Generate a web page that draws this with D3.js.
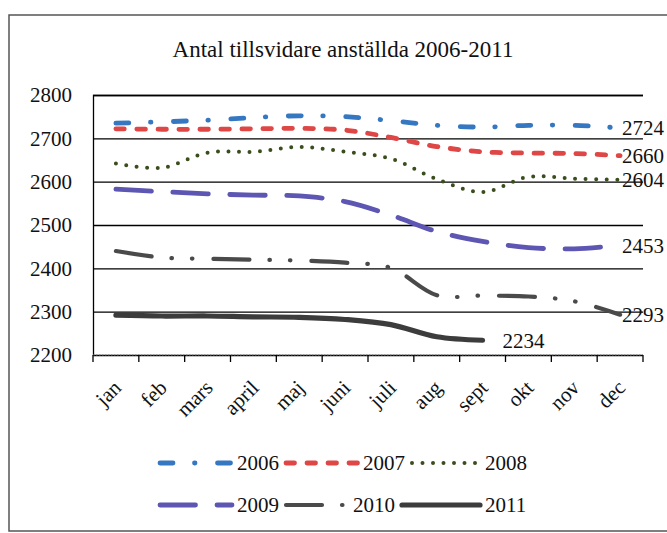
<!DOCTYPE html>
<html><head><meta charset="utf-8">
<script src="https://cdn.jsdelivr.net/npm/d3@7"></script>
<style>body{margin:0;background:#fff} svg{display:block}</style>
</head><body><svg id="c" width="667" height="533"></svg>
<script>
// ---- data ----
const title = "Antal tillsvidare anställda 2006-2011";
const months = ["jan","feb","mars","april","maj","juni","juli","aug","sept","okt","nov","dec"];
const yTicks = [2200,2300,2400,2500,2600,2700,2800];
const years = ["2006","2007","2008","2009","2010","2011"];
const v2006 = [2735,2738,2742,2748,2752,2750,2741,2730,2726,2730,2730,2724];
const v2007 = [2722,2721,2721,2722,2723,2719,2702,2681,2669,2666,2665,2660];
const v2008 = [2642,2632,2667,2669,2680,2669,2653,2606,2576,2611,2607,2604];
const v2009 = [2583,2577,2572,2569,2567,2554,2523,2485,2462,2448,2445,2453];
const v2010 = [2440,2425,2422,2420,2418,2413,2401,2338,2337,2335,2324,2293];
const v2011 = [2292,2290,2290,2288,2287,2282,2270,2242,2234];

// ---- styles ----
const seriesValues = [v2006,v2007,v2008,v2009,v2010,v2011];
const styles = [
  {color:"#3677c2", w:4.8, dash:"13,21.5,0.5,22.5", legendLen:72},
  {color:"#df4646", w:4.8, dash:"8.5,12.5", legendLen:72},
  {color:"#3a4d1c", w:4,   dash:"0,10.5", legendLen:68},
  {color:"#5d56b2", w:4.8, dash:"35.5,21.5", legendLen:72},
  {color:"#4a4a4a", w:4.2, dash:"36,20,0.5,20,0.5,21", legendLen:62},
  {color:"#3c3c3c", w:5.2, dash:null, legendLen:78}
];
const labelDx = [2,2,2,2,2,20];

const font = "'Liberation Serif', 'DejaVu Serif', serif";
const fs = 21;
const m = {left:93, right:643, top:95, bottom:355};
const svg = d3.select("#c").style("font-family", font);

// frame (left, top, bottom; the right edge runs off the picture)
svg.append("path").attr("d","M667,15H9V531H667")
  .attr("fill","none").attr("stroke","#555").attr("stroke-width",1.5);

// title
svg.append("text").attr("x",343).attr("y",57).attr("text-anchor","middle")
  .attr("font-size",23).attr("fill","#111").text(title);

const x = d3.scalePoint().domain(months).range([m.left,m.right]).padding(0.5);
const xb = d3.scaleBand().domain(months).range([m.left,m.right]);
const y = d3.scaleLinear().domain([2200,2800]).range([m.bottom,m.top]);

// y axis with gridlines
const gy = svg.append("g").attr("transform",`translate(${m.left},0)`)
  .call(d3.axisLeft(y).tickValues(yTicks).tickFormat(d3.format("d"))
        .tickSize(-(m.right-m.left)).tickPadding(21));
gy.select(".domain").attr("stroke","#000").attr("stroke-width",1.3);
gy.selectAll(".tick line").attr("stroke","#000").attr("stroke-width",1.3)
  .filter(d=>d===2200).remove();
gy.selectAll(".tick text").attr("font-size",fs).attr("font-family",font).attr("fill","#111");

// x axis (dotted base line, ticks at band boundaries)
svg.append("line").attr("x1",m.left).attr("x2",m.right).attr("y1",y(2200)).attr("y2",y(2200))
  .attr("stroke","#777").attr("stroke-width",1.2).attr("stroke-dasharray","1.5,1.5");
const bounds = months.map(d=>xb(d)).concat([m.right]);
svg.append("g").selectAll("line").data(bounds).join("line")
  .attr("x1",d=>d).attr("x2",d=>d).attr("y1",y(2200)).attr("y2",y(2200)+7)
  .attr("stroke","#000").attr("stroke-width",1.3);
const gx = svg.append("g").attr("transform",`translate(0,${y(2200)})`)
  .call(d3.axisBottom(x).tickSize(0).tickPadding(0));
gx.select(".domain").remove();
gx.selectAll(".tick text")
  .attr("font-size",fs).attr("font-family",font).attr("fill","#111")
  .attr("text-anchor","end").attr("dy",0).attr("y",0)
  .attr("transform","translate(6,34) rotate(-45)");

// lines
const line = (vals)=> d3.line().x((d,i)=>x(months[i])).y(d=>y(d))
  .curve(d3.curveCatmullRom.alpha(0.5))(vals);
seriesValues.forEach((vals,k)=>{
  const s = styles[k];
  svg.append("path").attr("d",line(vals)).attr("fill","none")
    .attr("stroke",s.color).attr("stroke-width",s.w).attr("stroke-linecap","round")
    .attr("stroke-linejoin","round").attr("stroke-dasharray",s.dash);
  const last = vals.length-1;
  svg.append("text").attr("x",x(months[last])+labelDx[k]).attr("y",y(vals[last]))
    .attr("dy","0.35em").attr("font-size",fs).attr("fill","#111").text(vals[last]);
});

// legend
const rows = [[0,1,2],[3,4,5]];
const rowY = [463,505];
rows.forEach((row,r)=>{
  let cx = 160;
  row.forEach(k=>{
    const s = styles[k];
    svg.append("path").attr("d",`M${cx},${rowY[r]}H${cx+s.legendLen}`)
      .attr("stroke",s.color).attr("stroke-width",s.w).attr("stroke-linecap","round")
      .attr("stroke-dasharray",s.dash).attr("fill","none");
    const t = svg.append("text").attr("x",cx+s.legendLen+5).attr("y",rowY[r]).attr("dy","0.35em")
      .attr("font-size",fs).attr("fill","#111").text(years[k]);
    cx += s.legendLen + 5 + t.node().getComputedTextLength() + 7;
  });
});
</script></body></html>
